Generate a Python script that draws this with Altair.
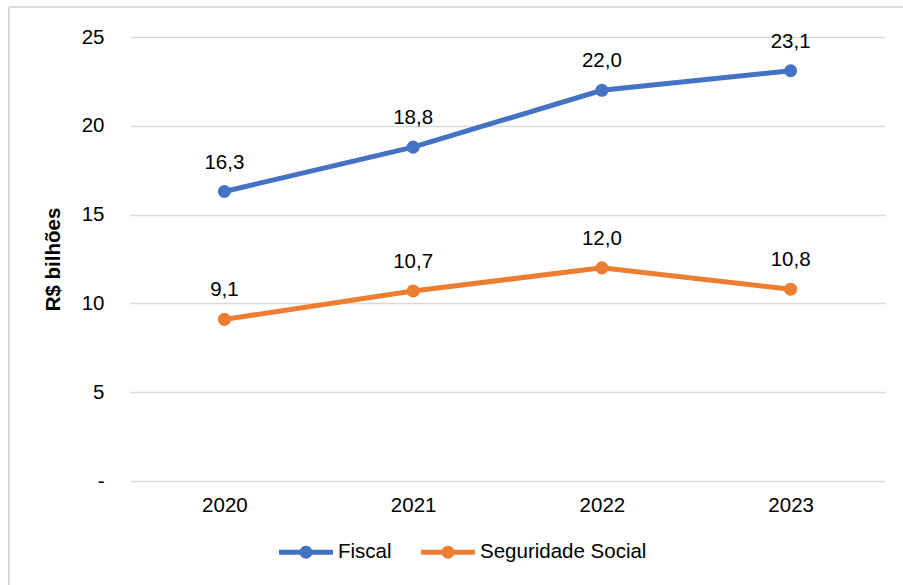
import altair as alt
import pandas as pd

years = ["2020", "2021", "2022", "2023"]
fiscal = [16.3, 18.8, 22.0, 23.1]
seguridade = [9.1, 10.7, 12.0, 10.8]
series_names = ["Fiscal", "Seguridade Social"]
colors = ["#4472C4", "#ED7D31"]

rows = []
for name, vals in zip(series_names, [fiscal, seguridade]):
    for y, v in zip(years, vals):
        rows.append({"ano": y, "serie": name, "valor": v,
                     "rotulo": f"{v:.1f}".replace(".", ",")})
df = pd.DataFrame(rows)

FONT = "Liberation Sans"
FS = 20.5
legend_path = ("M-1,-0.09L1,-0.09L1,0.09L-1,0.09Z "
               "M-0.24,0A0.24,0.24 0 1,1 0.24,0A0.24,0.24 0 1,1 -0.24,0Z")

x = alt.X("ano:O", title=None,
          scale=alt.Scale(type="point", padding=0.5),
          axis=alt.Axis(labelAngle=0, ticks=False, domain=False, grid=False,
                        labelPadding=14, labelFontSize=FS, labelFont=FONT,
                        labelColor="#000000"))
y = alt.Y("valor:Q", title="R$ bilhões",
          scale=alt.Scale(domain=[0, 25], nice=False),
          axis=alt.Axis(values=[0, 5, 10, 15, 20, 25], ticks=False, domain=False,
                        grid=True, gridColor="#D9D9D9", gridWidth=1.3,
                        labelExpr="datum.value == 0 ? '-' : datum.label",
                        labelPadding=26, labelFontSize=FS, labelFont=FONT,
                        labelColor="#000000", titleFontSize=FS, titleFont=FONT,
                        titleFontWeight="bold", titleColor="#000000",
                        titlePadding=18))
color = alt.Color("serie:N", title=None,
                  scale=alt.Scale(domain=series_names, range=colors),
                  legend=alt.Legend(orient="none", direction="horizontal",
                                    legendX=149, legendY=488,
                                    symbolType=legend_path, symbolSize=2916,
                                    symbolStrokeWidth=0, labelFontSize=FS,
                                    labelFont=FONT, labelColor="#000000",
                                    labelOffset=5, columnPadding=29,
                                    labelLimit=400, symbolOpacity=1))

base = alt.Chart(df)
lines = base.mark_line(strokeWidth=5).encode(x=x, y=y, color=color)
points = base.mark_point(filled=True, size=170, opacity=1).encode(
    x=x, y=y, color=alt.Color("serie:N", scale=alt.Scale(domain=series_names, range=colors), legend=None))
texts = base.mark_text(dy=-29, fontSize=FS, font=FONT, color="#000000").encode(
    x=x, y=y, text="rotulo:N")

border_left = alt.Chart(df).mark_rule(color="#D9D9D9", strokeWidth=2).encode(
    x=alt.value(-121), y=alt.value(-30), y2=alt.value(600))
border_top = alt.Chart(df).mark_rule(color="#D9D9D9", strokeWidth=2).encode(
    x=alt.value(-121), x2=alt.value(800), y=alt.value(-30))

chart = alt.layer(border_left, border_top, lines, points, texts).properties(
    width=755, height=444,
    autosize=alt.AutoSizeParams(type="none"),
    padding={"left": 130, "top": 37, "right": 18, "bottom": 104},
    background="#FFFFFF",
).configure_view(stroke=None)

chart.save("out.html", embed_options={"renderer": "svg", "actions": False})
